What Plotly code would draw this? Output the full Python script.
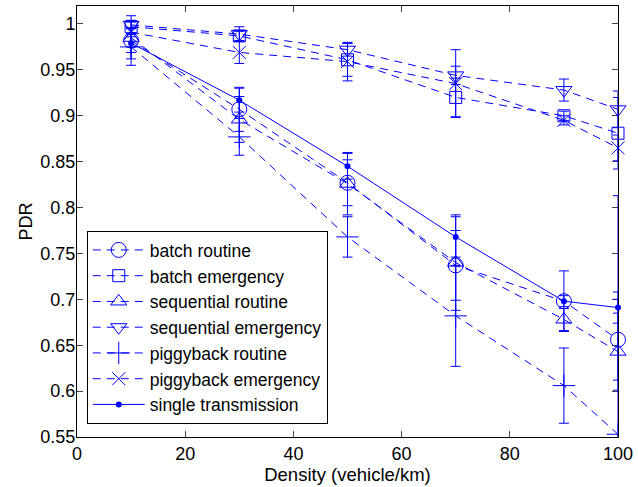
import plotly.graph_objects as go

density = [10, 30, 50, 70, 90, 100]

batch_routine = [0.982, 0.907, 0.827, 0.737, 0.698, 0.656]
batch_routine_err = [0.020, 0.024, 0.025, 0.038, 0.006, 0.044]

batch_emergency = [0.997, 0.987, 0.961, 0.920, 0.900, 0.881]
batch_emergency_err = [0.007, 0.005, 0.018, 0.021, 0.005, 0.039]

seq_routine = [0.985, 0.896, 0.826, 0.740, 0.678, 0.643]
seq_routine_err = [0.010, 0.025, 0.034, 0.052, 0.012, 0.042]

seq_emergency = [0.999, 0.989, 0.972, 0.944, 0.928, 0.907]
seq_emergency_err = [0.010, 0.008, 0.007, 0.010, 0.012, 0.020]

piggy_routine = [0.975, 0.877, 0.768, 0.682, 0.606, 0.553]
piggy_routine_err = [0.020, 0.020, 0.022, 0.055, 0.041, 0.260]

piggy_emergency = [0.991, 0.969, 0.959, 0.935, 0.895, 0.865]
piggy_emergency_err = [0.005, 0.012, 0.021, 0.037, 0.005, 0.014]

single = [0.979, 0.917, 0.845, 0.768, 0.698, 0.691]
single_err = [0.010, 0.013, 0.014, 0.022, 0.033, 0.017]

series = [
    ("batch routine", batch_routine, batch_routine_err, "circle-open", 15),
    ("batch emergency", batch_emergency, batch_emergency_err, "square-open", 12),
    ("sequential routine", seq_routine, seq_routine_err, "triangle-up-open", 14),
    ("sequential emergency", seq_emergency, seq_emergency_err, "triangle-down-open", 14),
    ("piggyback routine", piggy_routine, piggy_routine_err, "cross-thin-open", 16),
    ("piggyback emergency", piggy_emergency, piggy_emergency_err, "x-thin-open", 13),
]

y_ticks = [0.55, 0.6, 0.65, 0.7, 0.75, 0.8, 0.85, 0.9, 0.95, 1.0]
y_tick_text = ["0.55", "0.6", "0.65", "0.7", "0.75", "0.8", "0.85", "0.9", "0.95", "1"]
x_ticks = [0, 20, 40, 60, 80, 100]

BLUE = "#0000ff"
FONT = "Liberation Sans, Arial, sans-serif"

fig = go.Figure()
for i, (name, vals, errs, sym, sz) in enumerate(series):
    fig.add_trace(go.Scatter(
        x=density, y=vals, name=name, mode="lines+markers",
        legendgroup=f"g{i}",
        cliponaxis=(name == "piggyback routine"),
        line=dict(color=BLUE, width=1, dash="8px,6px"),
        marker=dict(symbol=sym, size=sz, color=BLUE, line=dict(color=BLUE, width=1)),
        error_y=dict(type="data", array=errs, visible=True, color=BLUE, thickness=1, width=5),
    ))

fig.add_trace(go.Scatter(
    x=density, y=single, name="single transmission", mode="lines+markers",
    legendgroup="g6", cliponaxis=False,
    line=dict(color=BLUE, width=1),
    marker=dict(symbol="circle", size=6, color=BLUE),
    error_y=dict(type="data", array=single_err, visible=True, color=BLUE, thickness=1, width=5),
))

fig.update_layout(
    width=638, height=487,
    margin=dict(l=77, r=15, t=5, b=50),
    paper_bgcolor="white", plot_bgcolor="white",
    font=dict(family=FONT, size=18, color="black"),
    showlegend=True,
    legend=dict(
        x=0.018, y=0.03, xanchor="left", yanchor="bottom",
        bgcolor="white", bordercolor="black", borderwidth=1,
        font=dict(family=FONT, size=17.5, color="black"),
        tracegroupgap=0, itemwidth=52,
    ),
    xaxis=dict(
        range=[0, 100], tickvals=x_ticks, ticks="inside", ticklen=6,
        showline=True, linecolor="black", linewidth=1, mirror="ticks",
        showgrid=False, zeroline=False, ticklabeloverflow="allow",
        layer="below traces",
        tickfont=dict(size=18),
        title=dict(text="Density (vehicle/km)", standoff=0, font=dict(size=18.5)),
    ),
    yaxis=dict(
        range=[0.55, 1.0196], tickvals=y_ticks, ticktext=y_tick_text,
        ticks="inside", ticklen=6,
        showline=True, linecolor="black", linewidth=1, mirror="ticks",
        showgrid=False, zeroline=False,
        layer="below traces",
        tickfont=dict(size=18),
        title=dict(text="PDR", standoff=3, font=dict(size=18)),
        ticklabelstandoff=-3,
    ),
)

fig.write_html("out.html", config={"displayModeBar": False},
               post_script="document.body.style.margin='0';")
